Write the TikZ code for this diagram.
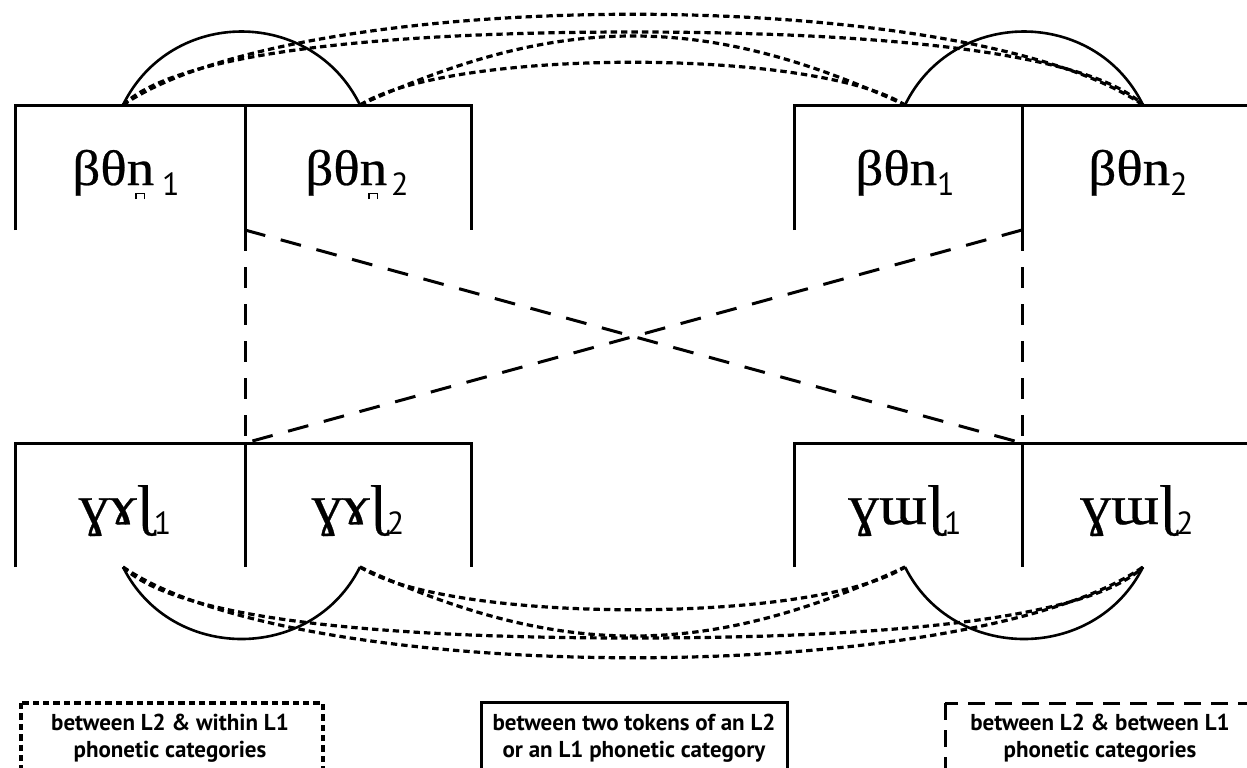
\documentclass[tikz,border=0pt]{standalone}
\usepackage{fontspec}
\setmainfont{Liberation Serif}
\newfontfamily\ipafont{Liberation Serif}[FakeBold=0.5,FakeStretch=1.1]
\newfontfamily\legfont{PT Sans}
\newfontfamily\subfont{PT Sans}
\newcommand\lsub[1]{\raisebox{-5pt}{\subfont\fontsize{16}{16}\selectfont #1}}
% n with a bridge below (drawn by hand, centred under the n)
\newcommand\bn{\setbox0\hbox{n}\rlap{n}\hbox to \wd0{\hss\raisebox{-7pt}{\hbox{\rlap{\vrule width 5pt height 3.2pt depth -2.4pt}\vrule width 0.8pt height 3.2pt\kern3.4pt\vrule width 0.8pt height 3.2pt}}\hss}}
\begin{document}
\begin{tikzpicture}[x=0.5pt,y=-0.5pt,
  boxline/.style={line width=1.5pt},
  arcline/.style={line width=1.3pt},
  dotline/.style={line width=1.6pt,dash pattern=on 3.2pt off 2pt},
  longdash/.style={line width=1.5pt,dash pattern=on 10.5pt off 8pt},
  legdash/.style={line width=1.5pt,dash pattern=on 8.5pt off 5pt},
  lab/.style={anchor=base,inner sep=0pt,font=\ipafont\fontsize{25}{25}\selectfont},
  labb/.style={lab,font=\ipafont\fontsize{28}{28}\selectfont},
  leg/.style={anchor=base,inner sep=0pt,align=center,font=\legfont\bfseries\fontsize{11.5}{13.5}\selectfont}]
\useasboundingbox (0,0) rectangle (1247,767);
\fill[white] (0,0) rectangle (1247,767);
\clip (0,0) rectangle (1247,767);

% boxes
\draw[boxline] (15,230) -- (15,105) -- (471,105) -- (471,230);
\draw[boxline] (245,105) -- (245,230);
\draw[boxline] (794,230) -- (794,105) -- (1260,105);
\draw[boxline] (1022,105) -- (1022,230);
\draw[boxline] (15,567) -- (15,443) -- (471,443) -- (471,567);
\draw[boxline] (245,443) -- (245,567);
\draw[boxline] (794,567) -- (794,443) -- (1260,443);
\draw[boxline] (1022,443) -- (1022,567);

% labels
\node[lab] (t1) at (126,185) {βθ\bn\hspace{4pt}\lsub{1}};
\node[lab] (t2) at (357,185) {βθ\bn\hspace{2pt}\lsub{2}};
\node[lab] (t3) at (905,185) {βθn\lsub{1}};
\node[lab] (t4) at (1138,185) {βθn\lsub{2}};
\node[labb] (b1) at (125,524) {ɣɤɭ\lsub{1}};
\node[labb] (b2) at (358,524) {ɣɤɭ\lsub{2}};
\node[labb] (b3) at (905,524) {ɣɯɭ\lsub{1}};
\node[labb] (b4) at (1137,524) {ɣɯɭ\lsub{2}};

% anchor points
\coordinate (tA) at (123,105);
\coordinate (tB) at (360,105);
\coordinate (tC) at (905,105);
\coordinate (tD) at (1143,105);
\coordinate (bA) at (123,567);
\coordinate (bB) at (360,567);
\coordinate (bC) at (905,567);
\coordinate (bD) at (1143,567);
\coordinate (d1t) at (245,230);
\coordinate (d1b) at (245,443);
\coordinate (d2t) at (1022,230);
\coordinate (d2b) at (1022,443);

% solid arcs
\draw[arcline] (tA) .. controls +(48,-98) and +(-48,-98) .. (tB);
\draw[arcline] (tC) .. controls +(48,-98) and +(-48,-98) .. (tD);
\draw[arcline] (bA) .. controls +(48,96) and +(-48,96) .. (bB);
\draw[arcline] (bC) .. controls +(48,96) and +(-48,96) .. (bD);

% dotted connectors (top)
\draw[dotline] (tA) .. controls (300,-16) and (966,-16) .. (tD);
\draw[dotline] (tA) .. controls (180,50) and (400,32) .. (633,32) .. controls (866,32) and (1086,50) .. (tD);
\draw[dotline] (tB) .. controls (560,13) and (706,13) .. (tC);
\draw[dotline] (tB) .. controls (450,48) and (815,48) .. (tC);
% dotted connectors (bottom)
\draw[dotline] (bA) .. controls (300,688) and (966,688) .. (bD);
\draw[dotline] (bA) .. controls (180,622) and (400,638) .. (633,638) .. controls (866,638) and (1086,622) .. (bD);
\draw[dotline] (bB) .. controls (560,659) and (706,659) .. (bC);
\draw[dotline] (bB) .. controls (450,624) and (815,624) .. (bC);

% long dashed connectors
\draw[longdash] (d1t) -- (d1b);
\draw[longdash] (d2t) -- (d2b);
\draw[longdash] (d1t) -- (d2b);
\draw[longdash] (d2t) -- (d1b);

% legend
\draw[dotline] (21,703) rectangle (323,800);
\node[leg] (g1) at (170,757) {between L2 \& within L1\\phonetic categories};
\draw[boxline] (481,702) rectangle (787,800);
\node[leg] (g2) at (634,757) {between two tokens of an L2\\or an L1 phonetic category};
\draw[legdash] (945,703) rectangle (1300,800);
\node[leg] (g3) at (1100,757) {between L2 \& between L1\\phonetic categories};
\end{tikzpicture}
\end{document}
